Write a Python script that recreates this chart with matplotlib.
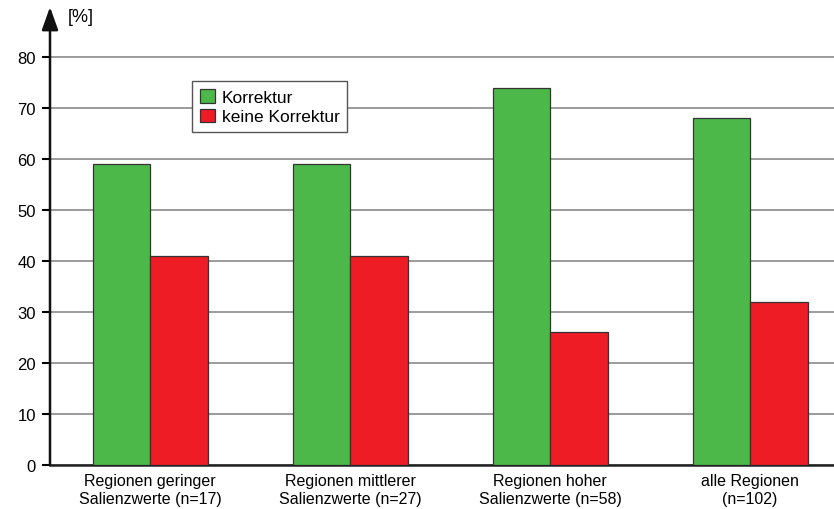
import numpy as np
import matplotlib.pyplot as plt

categories = [
    "Regionen geringer\nSalienzwerte (n=17)",
    "Regionen mittlerer\nSalienzwerte (n=27)",
    "Regionen hoher\nSalienzwerte (n=58)",
    "alle Regionen\n(n=102)",
]
korrektur = [59, 59, 74, 68]
keine_korrektur = [41, 41, 26, 32]
yticks = [0, 10, 20, 30, 40, 50, 60, 70, 80]

plt.rcParams["font.family"] = ["Liberation Sans", "DejaVu Sans"]

fig = plt.figure(figsize=(8.34, 5.10), dpi=100)
ax = fig.add_axes([50 / 834, 44 / 510, 784 / 834, 458 / 510])

x = np.arange(len(categories))
width = 0.2875

ax.bar(x - width / 2, korrektur, width, color="#4cb84a",
       edgecolor="#333333", linewidth=0.9, label="Korrektur", zorder=3)
ax.bar(x + width / 2, keine_korrektur, width, color="#ee1c25",
       edgecolor="#333333", linewidth=0.9, label="keine Korrektur", zorder=3)

ax.set_xlim(-0.5, 3.42)
ax.set_ylim(0, 89.8)

ax.set_yticks(yticks)
ax.set_yticklabels([str(t) for t in yticks], fontsize=12)
ax.set_xticks(x)
ax.set_xticklabels(categories, fontsize=11.5, linespacing=1.25)
ax.tick_params(axis="x", length=0, pad=6)
ax.tick_params(axis="y", length=6, width=1.5, direction="out", pad=4)

ax.yaxis.grid(True, color="#8a8a8a", linewidth=1.2, zorder=0)
ax.set_axisbelow(True)

for s in ["top", "right", "left"]:
    ax.spines[s].set_visible(False)
ax.spines["bottom"].set_linewidth(1.8)
ax.spines["bottom"].set_color("#222222")

ax.annotate("", xy=(0, 1.0), xycoords="axes fraction",
            xytext=(0, 0), textcoords="axes fraction",
            arrowprops=dict(arrowstyle="-|>,head_length=1.4,head_width=0.5",
                            color="#111111", linewidth=1.8, shrinkA=0, shrinkB=0),
            zorder=5, annotation_clip=False)

ax.text(18 / 784, 1 - 10 / 458, "[%]", transform=ax.transAxes,
        fontsize=13, va="center", ha="left")

leg = ax.legend(loc="upper left", bbox_to_anchor=(142 / 784, (466 - 82) / 458),
                fontsize=12.5, frameon=True, fancybox=False, borderpad=0.45,
                handlelength=0.85, handleheight=0.85, handletextpad=0.4,
                labelspacing=0.22, borderaxespad=0)
leg.get_frame().set_edgecolor("#555555")
leg.get_frame().set_linewidth(1.0)
leg.get_frame().set_alpha(1)
leg.set_zorder(6)

fig.savefig("out.png", dpi=100)
